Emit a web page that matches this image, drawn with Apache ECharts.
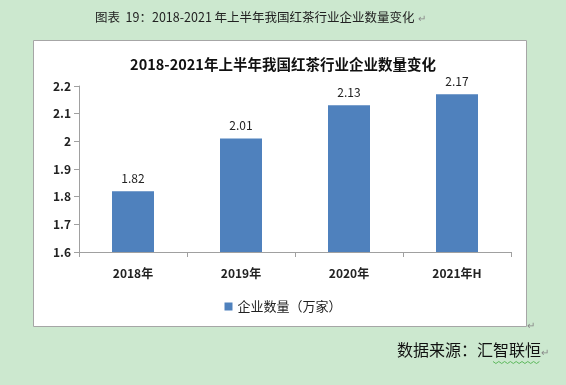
<!DOCTYPE html>
<html><head><meta charset="utf-8">
<script src="https://cdn.jsdelivr.net/npm/echarts@6/dist/echarts.min.js"></script>
<style>html,body{margin:0;padding:0;background:#cce8cf;}#c{width:566px;height:385px;}</style>
</head><body><div id="c"></div>
<script>
const categories = ['2018年', '2019年', '2020年', '2021年H'];
const values = [1.82, 2.01, 2.13, 2.17];
const seriesName = '企业数量（万家）';
const chartTitle = '2018-2021年上半年我国红茶行业企业数量变化';
const headerText = '图表  19：2018-2021 年上半年我国红茶行业企业数量变化';
const sourceText = '数据来源：汇智联恒';

const FF = '"Noto Sans CJK SC", "Liberation Sans", sans-serif';
const chart = echarts.init(document.getElementById('c'));

// wavy underline decoration points
const wave = [];
for (let i = 0; i <= 16; i++) wave.push([493 + i * 2.9, 362 + (i % 2 ? 1.5 : -0.5)]);

chart.setOption({
  backgroundColor: '#cce8cf',
  animation: false,
  graphic: [
    { type: 'rect', z: -10, shape: { x: 33.5, y: 40.5, width: 493, height: 286 },
      style: { fill: '#ffffff', stroke: '#a6a6a6', lineWidth: 1 } },
    { type: 'text', left: 95, top: 11,
      style: { text: headerText, font: '12.5px ' + FF, fill: '#222' } },
    { type: 'text', left: 418, top: 13,
      style: { text: '↵', font: '10px ' + FF, fill: '#888' } },
    { type: 'text', left: 527, top: 320,
      style: { text: '↵', font: '10px ' + FF, fill: '#888' } },
    { type: 'text', left: 397, top: 342,
      style: { text: sourceText, font: '16px ' + FF, fill: '#111' } },
    { type: 'text', left: 541, top: 347,
      style: { text: '↵', font: '10px ' + FF, fill: '#888' } },
    { type: 'polyline', shape: { points: wave },
      style: { stroke: '#5cb85c', lineWidth: 1, fill: null } }
  ],
  title: {
    text: chartTitle, left: 'center', top: 52,
    textStyle: { fontFamily: FF, fontSize: 14.5, fontWeight: 'bold', color: '#111' }
  },
  grid: { left: 79, right: 55, top: 86, bottom: 133, containLabel: false },
  legend: {
    bottom: 67, left: 'center', itemWidth: 8, itemHeight: 8, itemGap: 6,
    icon: 'rect',
    textStyle: { fontFamily: FF, fontSize: 13, color: '#222' },
    data: [seriesName]
  },
  xAxis: {
    type: 'category', data: categories,
    axisLine: { lineStyle: { color: '#a0a0a0' } },
    axisTick: { show: true, length: 5, lineStyle: { color: '#a0a0a0' }, alignWithLabel: false },
    axisLabel: { margin: 15, fontFamily: FF, fontSize: 12, fontWeight: 'bold', color: '#222' }
  },
  yAxis: {
    type: 'value', min: 1.6, max: 2.2, interval: 0.1,
    axisLine: { show: true, lineStyle: { color: '#a0a0a0' } },
    axisTick: { show: true, length: 5, lineStyle: { color: '#a0a0a0' } },
    splitLine: { show: false },
    axisLabel: { margin: 8, fontFamily: FF, fontSize: 12, fontWeight: 'bold', color: '#222',
      formatter: v => String(Math.round(v * 10) / 10) }
  },
  series: [{
    name: seriesName, type: 'bar', data: values, barWidth: 42,
    itemStyle: { color: '#4f81bd' },
    label: { show: true, position: 'top', distance: 7, fontFamily: FF, fontSize: 12, color: '#222' }
  }]
});
</script></body></html>
